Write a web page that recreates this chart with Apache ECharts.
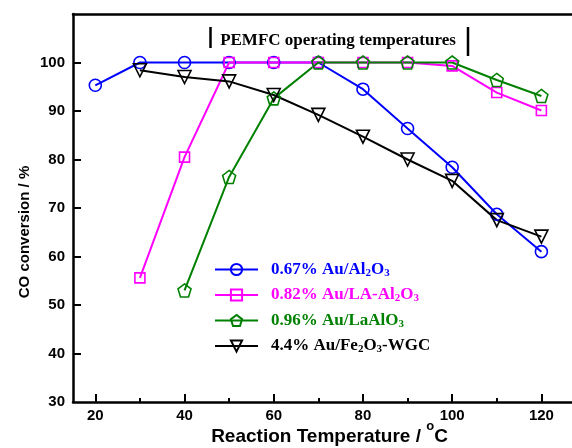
<!DOCTYPE html>
<html>
<head>
<meta charset="utf-8">
<script src="https://cdn.jsdelivr.net/npm/echarts@6/dist/echarts.min.js"></script>
<style>
  html, body { margin: 0; padding: 0; background: #fff; }
  #chart { width: 572px; height: 448px; }
</style>
</head>
<body>
<div id="chart"></div>
<script>
// reaction temperatures (°C)
const temps = [20, 30, 40, 50, 60, 70, 80, 90, 100, 110, 120];
// CO conversion (%), null = not measured
const auAl2O3   = [95.3, 100, 100, 100, 100, 100, 94.5, 86.4, 78.4, 68.7, 61.0];
const auLaAl2O3 = [null, 55.6, 80.5, 100, 100, 100, 100, 100, 99.3, 93.8, 90.1];
const auLaAlO3  = [null, null, 53.0, 76.4, 92.6, 100, 100, 100, 100, 96.4, 93.1];
const auFe2O3   = [null, 98.4, 97.0, 96.1, 93.3, 89.2, 84.7, 80.0, 75.6, 67.5, 64.1];

const xMajorTicks = [20, 40, 60, 80, 100, 120];
const xMinorTicks = [30, 50, 70, 90, 110];
const yTicks = [40, 50, 60, 70, 80, 90, 100];

const pentagon = 'path://M0,-1 L0.951,-0.309 L0.588,0.809 L-0.588,0.809 L-0.951,-0.309 Z';
const downTri = 'path://M-1,-0.85 L1,-0.85 L0,0.9 Z';

function pairs(vals) {
    return temps.map((t, i) => [t, vals[i]]).filter(p => p[1] !== null);
}

const legendText = {
    '0.67% Au/Al2O3': '{b|0.67% Au/Al}{bs|2}{b|O}{bs|3}',
    '0.82% Au/LA-Al2O3': '{m|0.82% Au/LA-Al}{ms|2}{m|O}{ms|3}',
    '0.96% Au/LaAlO3': '{g|0.96% Au/LaAlO}{gs|3}',
    '4.4% Au/Fe2O3-WGC': '{k|4.4% Au/Fe}{ks|2}{k|O}{ks|3}{k|-WGC}'
};

function richPair(color) {
    return [
        { color: color, fontSize: 17, fontWeight: 'bold', fontFamily: 'Liberation Serif', lineHeight: 18 },
        { color: color, fontSize: 11, fontWeight: 'bold', fontFamily: 'Liberation Serif', lineHeight: 10, verticalAlign: 'bottom' }
    ];
}
const rich = {};
[['b', '#0000ff'], ['m', '#ff00ff'], ['g', '#008000'], ['k', '#000000']].forEach(([k, c]) => {
    const p = richPair(c);
    rich[k] = p[0];
    rich[k + 's'] = p[1];
});

function mkSeries(name, vals, color, symbol, size) {
    return {
        name: name,
        type: 'line',
        data: pairs(vals),
        symbol: symbol,
        symbolSize: size,
        lineStyle: { color: color, width: 2 },
        itemStyle: { color: 'transparent', borderColor: color, borderWidth: 1.6 },
        emphasis: { disabled: true },
        z: 3
    };
}

const chart = echarts.init(document.getElementById('chart'));
chart.setOption({
    animation: false,
    grid: { left: 73, top: 14, width: 513, height: 388, outerBoundsMode: 'none', containLabel: false },
    legend: {
        orient: 'vertical',
        left: 209,
        top: 256,
        itemWidth: 43,
        itemHeight: 14,
        itemGap: 8,
        formatter: name => legendText[name],
        textStyle: { rich: rich, padding: [0, 0, 0, 8] },
        data: ['0.67% Au/Al2O3', '0.82% Au/LA-Al2O3', '0.96% Au/LaAlO3', '4.4% Au/Fe2O3-WGC']
    },
    xAxis: [{
        type: 'value',
        min: 15,
        max: 130,
        name: '{n|Reaction Temperature / }{sup|o}{n|C}',
        nameLocation: 'middle',
        nameGap: 18,
        nameMoveOverlap: false,
        nameTextStyle: {
            rich: {
                n: { fontFamily: 'Liberation Sans', fontWeight: 'bold', fontSize: 19, color: '#000', lineHeight: 34 },
                sup: { fontFamily: 'Liberation Sans', fontWeight: 'bold', fontSize: 13, color: '#000', lineHeight: 12, verticalAlign: 'top' }
            }
        },
        splitLine: { show: false },
        axisLine: { lineStyle: { color: '#000', width: 2.5 } },
        axisTick: { inside: true, length: 8, customValues: xMajorTicks, lineStyle: { color: '#000', width: 2 } },
        axisLabel: { customValues: xMajorTicks, margin: 6, color: '#000', fontFamily: 'Liberation Sans', fontWeight: 'bold', fontSize: 15 }
    }, {
        type: 'value',
        min: 15,
        max: 130,
        position: 'bottom',
        splitLine: { show: false },
        axisLine: { show: false },
        axisTick: { inside: true, length: 4, customValues: xMinorTicks, lineStyle: { color: '#000', width: 2 } },
        axisLabel: { show: false }
    }, {
        type: 'value',
        min: 15,
        max: 130,
        position: 'top',
        splitLine: { show: false },
        axisLine: { lineStyle: { color: '#000', width: 2.5 } },
        axisTick: { show: false },
        axisLabel: { show: false }
    }],
    yAxis: {
        type: 'value',
        min: 30,
        max: 110,
        interval: 10,
        splitLine: { show: false },
        axisLine: { show: true, lineStyle: { color: '#000', width: 2.5 } },
        axisTick: { inside: true, length: 8, customValues: yTicks, lineStyle: { color: '#000', width: 2 } },
        axisLabel: {
            margin: 8,
            color: '#000',
            fontFamily: 'Liberation Sans',
            fontWeight: 'bold',
            fontSize: 15,
            formatter: v => (v > 100 ? '' : String(v))
        }
    },
    graphic: [
        {
            type: 'text', x: 25, y: 232, rotation: Math.PI / 2,
            style: { text: 'CO conversion / %', fill: '#000', font: 'bold 15px "Liberation Sans"', textAlign: 'center', textVerticalAlign: 'middle' }
        },
        {
            type: 'text', x: 338, y: 41,
            style: { text: 'PEMFC operating temperatures', fill: '#000', font: 'bold 17px "Liberation Serif"', textAlign: 'center', textVerticalAlign: 'middle' }
        },
        { type: 'line', shape: { x1: 210.5, y1: 27, x2: 210.5, y2: 48 }, style: { stroke: '#000', lineWidth: 2.5 } },
        { type: 'line', shape: { x1: 468, y1: 27, x2: 468, y2: 56 }, style: { stroke: '#000', lineWidth: 2.5 } }
    ],
    series: [
        mkSeries('0.67% Au/Al2O3', auAl2O3, '#0000ff', 'circle', 12),
        mkSeries('0.82% Au/LA-Al2O3', auLaAl2O3, '#ff00ff', 'rect', 10),
        mkSeries('0.96% Au/LaAlO3', auLaAlO3, '#008000', pentagon, 13),
        mkSeries('4.4% Au/Fe2O3-WGC', auFe2O3, '#000000', downTri, 13)
    ]
});
</script>
</body>
</html>
